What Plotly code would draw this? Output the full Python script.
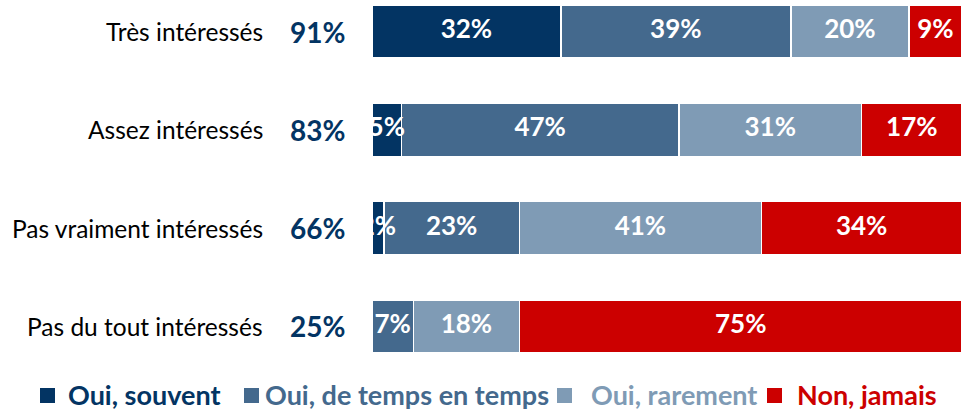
import plotly.graph_objects as go

categories = ["Très intéressés", "Assez intéressés", "Pas vraiment intéressés", "Pas du tout intéressés"]
totals = [91, 83, 66, 25]
series_names = ["Oui, souvent", "Oui, de temps en temps", "Oui, rarement", "Non, jamais"]
souvent = [32, 5, 2, 0]
temps = [39, 47, 23, 7]
rarement = [20, 31, 41, 18]
jamais = [9, 17, 34, 75]
colors = ["#033463", "#44698D", "#7F9BB5", "#CC0000"]

series = [souvent, temps, rarement, jamais]
FONT = "Lato"

W, H = 962, 410
ML, MR, MT, MB = 372, 0, 5, 57
PW, PH = W - ML - MR, H - MT - MB


def px_x(px):
    return (px - ML) / PW


def px_y(py):
    return (H - MB - py) / PH


fig = go.Figure()
for name, vals, col in zip(series_names, series, colors):
    fig.add_trace(go.Bar(
        y=categories, x=vals, orientation="h", name=name,
        marker=dict(color=col, line=dict(color="white", width=1.5)),
        hoverinfo="skip", showlegend=False,
    ))

# value labels on top of bars
lx, ly, lt = [], [], []
for i, cat in enumerate(categories):
    cum = 0
    for vals in series:
        v = vals[i]
        if v > 0:
            lx.append(cum + v / 2)
            ly.append(cat)
            lt.append(f"<b>{v}%</b>")
        cum += v
fig.add_trace(go.Scatter(
    x=lx, y=ly, text=lt, mode="text",
    textfont=dict(family=FONT, size=26, color="white"),
    showlegend=False, hoverinfo="skip", cliponaxis=True,
))

annotations = []
for cat, tot in zip(categories, totals):
    annotations.append(dict(
        x=-0.181, y=cat, xref="paper", yref="y", text=cat, showarrow=False,
        xanchor="right", yanchor="middle",
        font=dict(family=FONT, size=24.5, color="#000000"),
    ))
    annotations.append(dict(
        x=-0.093, y=cat, xref="paper", yref="y", text=f"<b>{tot}%</b>", showarrow=False,
        xanchor="center", yanchor="middle",
        font=dict(family=FONT, size=28, color="#033463"),
    ))

# legend drawn below the plot (square + coloured bold label)
legend_square_px = [40, 244, 557, 767]
legend_text_px = [66, 263, 589, 795]
shapes = []
for name, col, sx, tx in zip(series_names, colors, legend_square_px, legend_text_px):
    shapes.append(dict(
        type="rect", xref="paper", yref="paper",
        x0=px_x(sx), x1=px_x(sx + 15), y0=px_y(403), y1=px_y(388),
        fillcolor=col, line=dict(width=0),
    ))
    annotations.append(dict(
        x=px_x(tx), y=px_y(394), xref="paper", yref="paper", text=f"<b>{name}</b>",
        showarrow=False, xanchor="left", yanchor="middle",
        font=dict(family=FONT, size=27, color=col),
    ))

fig.update_layout(
    barmode="stack",
    bargap=0.46,
    width=W, height=H,
    margin=dict(l=ML, r=MR, t=MT, b=MB),
    plot_bgcolor="white", paper_bgcolor="white",
    xaxis=dict(range=[0, 100], visible=False, fixedrange=True),
    yaxis=dict(categoryorder="array", categoryarray=categories,
               range=[3.27, -0.27], visible=False),
    showlegend=False,
    annotations=annotations,
    shapes=shapes,
)

fig.write_html("out.html", config={"displayModeBar": False},
               post_script="document.body.style.margin='0';")
